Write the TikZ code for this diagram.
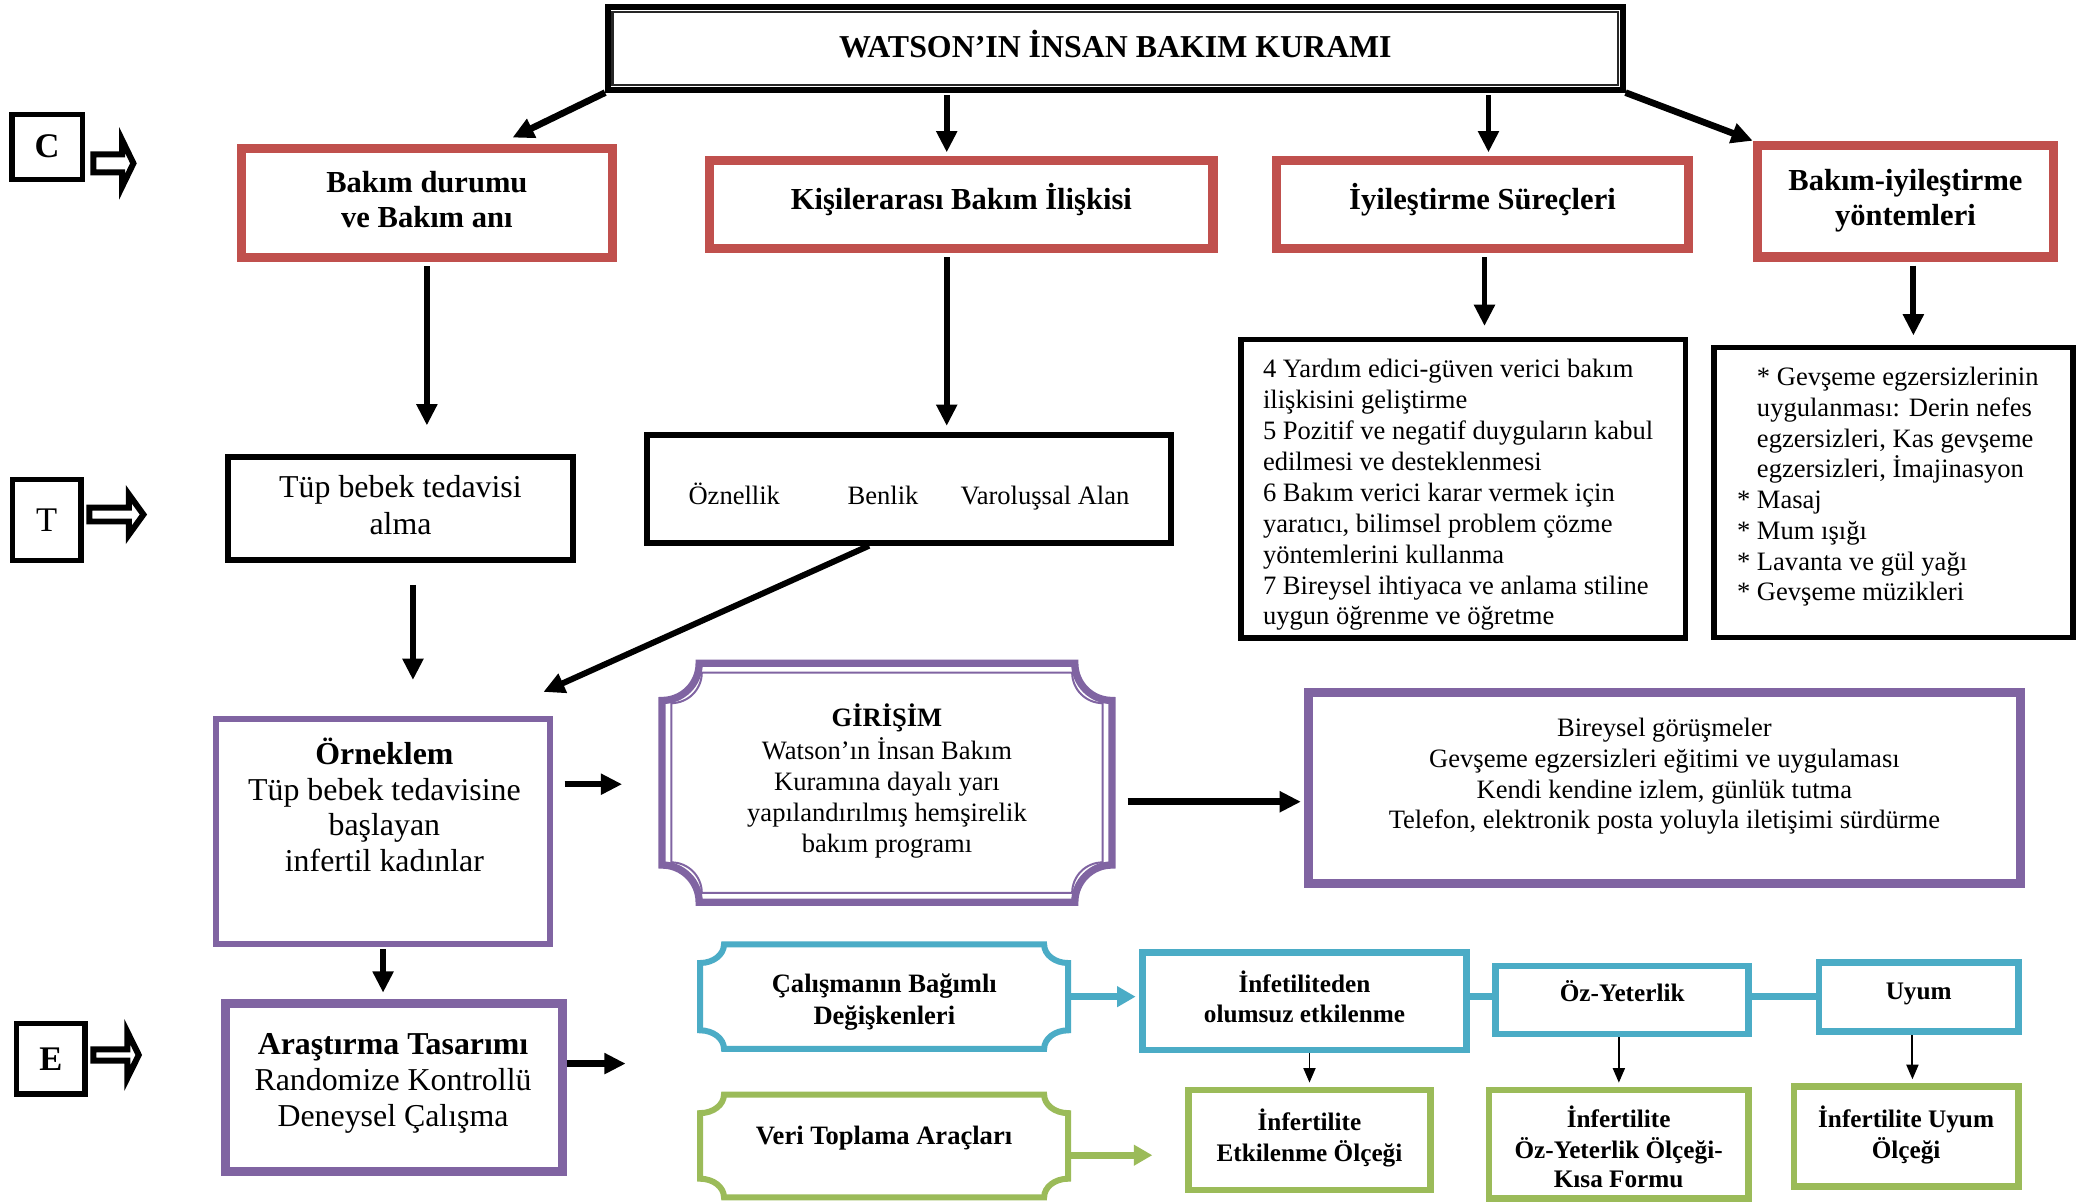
\documentclass[tikz,border=0pt]{standalone}
\usepackage{fontspec}
\setmainfont{Liberation Serif}
\usetikzlibrary{arrows.meta,calc}

\definecolor{kred}{HTML}{C0504D}
\definecolor{kpurple}{HTML}{8064A2}
\definecolor{kblue}{HTML}{4BACC6}
\definecolor{kgreen}{HTML}{9BBB59}

\newcommand\fsz[2]{\fontsize{#1}{#2}\selectfont}
% thin inner line of a double frame: node, inset, style
\newcommand\innerframe[3]{%
  \draw[#3] ($(#1.north west)+(#2,#2)$) rectangle ($(#1.south east)-(#2,#2)$);}
% frame with concave (scooped) corners: node, inset, x radius, y radius, style
\newcommand\plaque[5]{%
  \draw[#5] let \p1=($(#1.north west)+(#2,#2)$), \p2=($(#1.south east)-(#2,#2)$) in
    (\x1,\y1-#4pt) .. controls (\x1+0.552*#3pt,\y1-#4pt) and (\x1+#3pt,\y1-0.552*#4pt) .. (\x1+#3pt,\y1)
    -- (\x2-#3pt,\y1) .. controls (\x2-#3pt,\y1-0.552*#4pt) and (\x2-0.552*#3pt,\y1-#4pt) .. (\x2,\y1-#4pt)
    -- (\x2,\y2+#4pt) .. controls (\x2-0.552*#3pt,\y2+#4pt) and (\x2-#3pt,\y2+0.552*#4pt) .. (\x2-#3pt,\y2)
    -- (\x1+#3pt,\y2) .. controls (\x1+#3pt,\y2+0.552*#4pt) and (\x1+0.552*#3pt,\y2+#4pt) .. (\x1,\y2+#4pt)
    -- cycle;}

\begin{document}
\begin{tikzpicture}[x=1pt,y=-1pt,
  every node/.style={inner sep=0pt},
  kframe/.style={rectangle, draw, fill=white, align=center},
  titlebox/.style={kframe, line width=4.5pt, font=\bfseries\fsz{24}{28}},
  letterbox/.style={kframe, line width=4pt, font=\fsz{26}{30}},
  redbox/.style={kframe, draw=kred, line width=5.5pt, font=\bfseries\fsz{23}{26}},
  blackbox/.style={kframe, line width=4.5pt},
  purplebox/.style={kframe, draw=kpurple, line width=5pt},
  bluebox/.style={kframe, draw=kblue, line width=5pt, font=\bfseries\fsz{19}{22.5}},
  greenbox/.style={kframe, draw=kgreen, line width=5pt, font=\bfseries\fsz{19}{22.5}},
  plaquebox/.style={rectangle, align=center},
  arr/.style={line width=4.5pt, -{Triangle[length=16pt,width=15pt]}},
  thinarr/.style={line width=1.5pt, -{Triangle[length=11pt,width=9pt]}},
  bluearr/.style={draw=kblue, line width=5pt, -{Triangle[length=14pt,width=15pt]}},
  greenarr/.style={draw=kgreen, line width=5pt, -{Triangle[length=14pt,width=15pt]}},
  hollow/.style={draw, fill=white, line width=4.5pt, line join=miter},
]
\useasboundingbox (0,0) rectangle (1568,906);
\fill[white] (0,0) rectangle (1568,906);

% ---------- title ----------
\node[titlebox, minimum width=764pt, minimum height=62pt, text height=16pt, text depth=2pt]
  (title) at (840,36.5) {WATSON’IN İNSAN BAKIM KURAMI};
\innerframe{title}{5.75}{line width=2pt, black!85}

% ---------- level letters ----------
\node[letterbox, minimum width=53pt, minimum height=49pt, font=\bfseries\fsz{26}{30}] (Cbox) at (35.5,110.5) {C};
\node[letterbox, minimum width=51.6pt, minimum height=61pt] (Tbox) at (35.2,391.5) {T};
\node[letterbox, minimum width=51.4pt, minimum height=53pt, font=\bfseries\fsz{26}{30}] (Ebox) at (38.3,797.5) {E};
\draw[hollow] ($(Cbox.east)+(6.25,5.75)$) -- ++(21.75,0) -- ++(0,-10.75) -- ++(8.5,17.5) -- ++(-8.5,17.5) -- ++(0,-10.75) -- ++(-21.75,0) -- cycle;
\draw[hollow] ($(Tbox.east)+(4.25,-9.25)$) -- ++(29.75,0) -- ++(0,-10) -- ++(11,15.25) -- ++(-11,15.25) -- ++(0,-10) -- ++(-29.75,0) -- cycle;
\draw[hollow] ($(Ebox.east)+(4.25,-7.25)$) -- ++(25.75,0) -- ++(0,-13) -- ++(8.5,17.25) -- ++(-8.5,17.25) -- ++(0,-13) -- ++(-25.75,0) -- cycle;

% ---------- concepts ----------
\node[redbox, minimum width=281pt, minimum height=83.3pt] (bakim) at (321.5,153) {\strut Bakım durumu\\ve Bakım anı\strut};
\node[redbox, minimum width=380.5pt, minimum height=68pt, text height=16pt, text depth=9pt] (kisiler) at (724,154) {Kişilerarası Bakım İlişkisi};
\node[redbox, minimum width=311.5pt, minimum height=68pt, text height=16pt, text depth=9pt] (iyiles) at (1116.5,154) {İyileştirme Süreçleri};
\node[redbox, minimum width=224.5pt, minimum height=85.5pt] (yontem) at (1435,151.5) {\strut Bakım-iyileştirme\\yöntemleri\strut};
\foreach \n in {bakim,kisiler,iyiles,yontem}{\innerframe{\n}{6.1}{kred, line width=1.7pt}}

% ---------- theory level ----------
\node[blackbox, minimum width=259.5pt, minimum height=77.3pt, font=\fsz{24}{27.7}] (tup) at (301.6,383) {\strut Tüp bebek tedavisi\\alma\strut};
\node[blackbox, minimum width=394.5pt, minimum height=81.5pt] (oz) at (684.5,368) {};
\node[font=\fsz{20}{24}, anchor=base] (oz1) at (553,380) {Öznellik};
\node[font=\fsz{20}{24}, anchor=base] (oz2) at (665,380) {Benlik};
\node[font=\fsz{20}{24}, anchor=base] (oz3) at (787,380) {Varoluşsal Alan};

\node[blackbox, line width=4pt, minimum width=335pt, minimum height=225pt] (list1) at (1102,368) {};
\node[anchor=west, align=left, font=\fsz{20}{23.3}] (list1T) at (951,372.8) {\strut 4 Yardım edici-güven verici bakım\\
ilişkisini geliştirme\\
5 Pozitif ve negatif duyguların kabul\\
edilmesi ve desteklenmesi\\
6 Bakım verici karar vermek için\\
yaratıcı, bilimsel problem çözme\\
yöntemlerini kullanma\\
7 Bireysel ihtiyaca ve anlama stiline\\
uygun öğrenme ve öğretme\strut};

\node[blackbox, line width=4pt, minimum width=270.5pt, minimum height=218.7pt] (list2) at (1426,371) {};
\node[anchor=west, align=left, font=\fsz{20}{23.1}] (list2T) at (1308,366.9) {\hspace*{15pt}\strut * Gevşeme egzersizlerinin\\
\hspace*{15pt}uygulanması: Derin nefes\\
\hspace*{15pt}egzersizleri, Kas gevşeme\\
\hspace*{15pt}egzersizleri, İmajinasyon\\
* Masaj\\
* Mum ışığı\\
* Lavanta ve gül yağı\\
* Gevşeme müzikleri\strut};

% ---------- sample, intervention ----------
\node[purplebox, line width=4.5pt, minimum width=251pt, minimum height=169.3pt] (orn) at (288.5,626) {};
\node[align=center, font=\fsz{24}{27}] (ornT) at (289.5,610.1) {\strut\textbf{Örneklem}\\Tüp bebek tedavisine\\başlayan\\infertil kadınlar\strut};

\node[plaquebox, minimum width=338.5pt, minimum height=179.5pt, font=\fsz{20}{23.25}] (gir) at (668,589.5)
  {\strut\textbf{GİRİŞİM}\\Watson’ın İnsan Bakım\\Kuramına dayalı yarı\\yapılandırılmış hemşirelik\\bakım programı\strut};
\plaque{gir}{0}{28}{28}{draw=kpurple, line width=5.5pt}
\plaque{gir}{7}{23}{23}{draw=kpurple, line width=1.5pt}

\node[purplebox, minimum width=537.5pt, minimum height=145.5pt] (bir) at (1253.5,593.5) {};
\innerframe{bir}{6}{kpurple, line width=1.5pt}
\node[align=center, font=\fsz{20}{23}] (birT) at (1253.5,584.9) {\strut Bireysel görüşmeler\\Gevşeme egzersizleri eğitimi ve uygulaması\\Kendi kendine izlem, günlük tutma\\Telefon, elektronik posta yoluyla iletişimi sürdürme\strut};

% ---------- design, variables, measures ----------
\node[purplebox, minimum width=255pt, minimum height=127.8pt] (ara) at (296.7,819) {};
\innerframe{ara}{6}{kpurple, line width=1.5pt}
\node[align=center, font=\fsz{24}{27}] (araT) at (296,815.6) {\strut\textbf{Araştırma Tasarımı}\\Randomize Kontrollü\\Deneysel Çalışma\strut};

\node[plaquebox, minimum width=276.7pt, minimum height=78.3pt] (cal) at (665.8,750.6) {};
\plaque{cal}{0}{18}{14}{draw=kblue, line width=4.5pt}
\node[align=center, font=\bfseries\fsz{20}{23.8}] (calT) at (666,754.7) {\strut Çalışmanın Bağımlı\\Değişkenleri\strut};

\node[plaquebox, minimum width=276.7pt, minimum height=77pt, font=\bfseries\fsz{20}{24}, text height=14pt, text depth=16.4pt] (ver) at (665.8,863) {Veri Toplama Araçları};
\plaque{ver}{0}{18}{14}{draw=kgreen, line width=4.5pt}

\node[bluebox, minimum width=244.3pt, minimum height=73.3pt] (inf) at (982.4,754.2) {\strut İnfetiliteden\\olumsuz etkilenme\strut};
\node[bluebox, minimum width=190.4pt, minimum height=51.2pt, text height=14pt, text depth=10.8pt] (oy) at (1221.7,753) {Öz-Yeterlik};
\node[bluebox, minimum width=150pt, minimum height=52pt, text height=14pt, text depth=9.8pt] (uy) at (1445,751) {Uyum};

\node[greenbox, minimum width=182.3pt, minimum height=75.3pt] (ie) at (986.2,858.5) {\strut İnfertilite\\Etkilenme Ölçeği\strut};
\node[greenbox, minimum width=195.4pt, minimum height=81.6pt] (iy) at (1219.2,861.7) {};
\node[align=center, font=\bfseries\fsz{19}{22}] (iyT) at (1219,866.8) {\strut İnfertilite\\Öz-Yeterlik Ölçeği-\\Kısa Formu\strut};
\node[greenbox, minimum width=169pt, minimum height=75.3pt, font=\bfseries\fsz{19}{21.3}] (iu) at (1435.5,856) {\strut İnfertilite Uyum\\Ölçeği\strut};

% ---------- connectors: theory to concepts ----------
\draw[arr, line width=5pt] (title.south west) -- ($(bakim.north)+(64.5,-5)$);
\coordinate (k1) at ($(kisiler.north)+(-11,0)$);
\draw[arr, shorten <=2pt, shorten >=2.5pt] (k1 |- title.south) -- (k1);
\coordinate (i1) at ($(iyiles.north)+(4.5,0)$);
\draw[arr, shorten <=2pt, shorten >=2.5pt] (i1 |- title.south) -- (i1);
\draw[arr, line width=5pt] (title.south east) -- (yontem.north west);

% ---------- concepts to theory level ----------
\coordinate (c1) at ($(bakim.south)+(0,123)$);
\draw[arr, shorten <=3pt] (bakim.south) -- (c1);
\coordinate (c2) at ($(kisiler.south)+(-11,130)$);
\draw[arr, shorten <=3pt] ($(kisiler.south)+(-11,0)$) -- (c2);
\coordinate (c3) at ($(list1.north)+(16,-8)$);
\draw[arr, shorten <=3pt] (c3 |- iyiles.south) -- (c3);
\coordinate (c4) at ($(list2.north)+(15,-7)$);
\draw[arr, shorten <=3pt] (c4 |- yontem.south) -- (c4);

% ---------- theory level to sample ----------
\draw[arr] ($(tup.south)+(9.4,16.5)$) -- ($(orn.north)+(22.5,-27)$);
\draw[arr] ($(oz.south)+(-30,0)$) -- ($(orn.north east)+(-7,-18)$);

% ---------- empirical level ----------
\draw[arr] ($(orn.east)+(9,-35.4)$) -- ($(gir.west)+(-30,1.1)$);
\coordinate (g1) at ($(gir.east)+(11.75,14.3)$);
\draw[arr, line width=5pt, shorten >=2.5pt] (g1) -- (g1 -| bir.west);
\draw[arr, shorten <=2pt, shorten >=5pt] (orn.south) -- (orn.south |- ara.north);
\draw[arr, line width=5pt] ($(ara.east)+(0,-18)$) -- ($(ara.east)+(44.5,-18)$);

\draw[bluearr, shorten >=2.5pt] (cal.east) -- (cal.east -| inf.west);
\draw[kblue, line width=5pt] (cal.east -| inf.east) -- (cal.east -| oy.west);
\draw[kblue, line width=5pt] (cal.east -| oy.east) -- (cal.east -| uy.west);
\coordinate (v1) at ($(ver.east)+(63.5,7)$);
\draw[greenarr] ($(ver.east)+(0,7)$) -- (v1);

\draw[thinarr, shorten >=3pt] (ie.north |- inf.south) -- (ie.north);
\draw[thinarr, shorten >=3pt] (iy.north |- oy.south) -- (iy.north);
\coordinate (u1) at ($(iu.north)+(4.8,0)$);
\draw[thinarr, shorten >=3pt] (u1 |- uy.south) -- (u1);
\end{tikzpicture}
\end{document}
